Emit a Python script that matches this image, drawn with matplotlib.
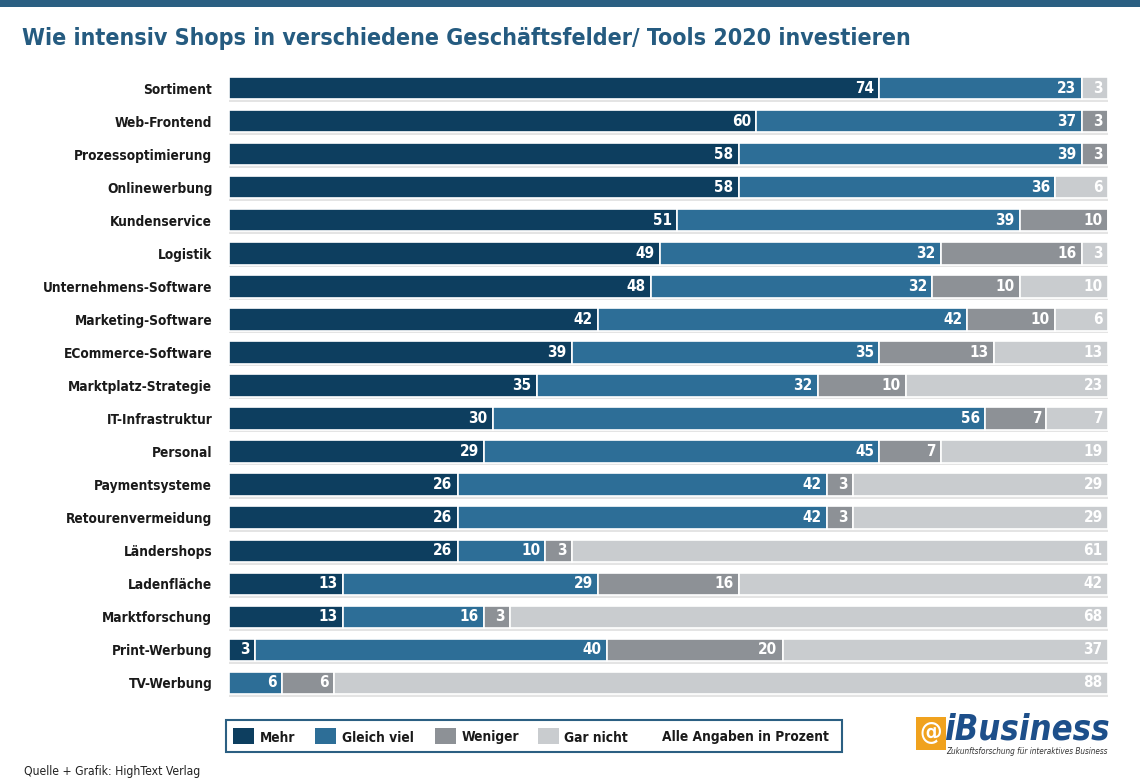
import matplotlib.pyplot as plt
from matplotlib.patches import Rectangle
import numpy as np

plt.rcParams['font.family'] = ['DejaVu Sans']
plt.rcParams['font.stretch'] = 'condensed'

# Data (in percent)
categories = ['Sortiment', 'Web-Frontend', 'Prozessoptimierung', 'Onlinewerbung',
              'Kundenservice', 'Logistik', 'Unternehmens-Software', 'Marketing-Software',
              'ECommerce-Software', 'Marktplatz-Strategie', 'IT-Infrastruktur', 'Personal',
              'Paymentsysteme', 'Retourenvermeidung', 'Ländershops', 'Ladenfläche',
              'Marktforschung', 'Print-Werbung', 'TV-Werbung']
mehr = [74, 60, 58, 58, 51, 49, 48, 42, 39, 35, 30, 29, 26, 26, 26, 13, 13, 3, 0]
gleich = [23, 37, 39, 36, 39, 32, 32, 42, 35, 32, 56, 45, 42, 42, 10, 29, 16, 40, 6]
weniger = [0, 3, 3, 0, 10, 16, 10, 10, 13, 10, 7, 7, 3, 3, 3, 16, 3, 20, 6]
gar_nicht = [3, 0, 0, 6, 0, 3, 10, 6, 13, 23, 7, 19, 29, 29, 61, 42, 68, 37, 88]

series_names = ['Mehr', 'Gleich viel', 'Weniger', 'Gar nicht']
colors = ['#0d3e5f', '#2d6e97', '#8d9196', '#c9cccf']
title_color = '#255b80'

W, H = 1140, 781
fig = plt.figure(figsize=(W / 100, H / 100), dpi=100)
fig.patch.set_facecolor('white')
renderer = fig.canvas.get_renderer()


def fx(px):
    return px / W


def fy(py):
    return 1 - py / H


def fit(t, width_px, max_size):
    # shrink a text so that it takes about width_px pixels
    w = t.get_window_extent(renderer).width
    size = min(max_size, t.get_fontsize() * width_px / w)
    t.set_fontsize(size)
    return size


# top band
fig.add_artist(Rectangle((0, fy(7)), 1, 7 / H, transform=fig.transFigure,
                         color='#2b5f82', lw=0))

title = fig.text(fx(22), fy(38), 'Wie intensiv Shops in verschiedene Geschäftsfelder/ Tools 2020 investieren',
                 fontsize=19, fontweight='bold', color=title_color, va='center', ha='left')
fit(title, 890, 20)

ax = fig.add_axes([fx(229), fy(699.5), fx(1108 - 229), (699.5 - 71.5) / H])
y = np.arange(len(categories))
data = [mehr, gleich, weniger, gar_nicht]

# soft shadow under each bar row
ax.barh(y + 0.06, 100.4, height=0.72, color='#e4e4e4', edgecolor='none', zorder=0)

left = np.zeros(len(categories))
for vals, col in zip(data, colors):
    vals = np.array(vals, dtype=float)
    ax.barh(y, vals, left=left, height=0.68, color=col, edgecolor='white',
            linewidth=1.2, zorder=2)
    for yi, l, v in zip(y, left, vals):
        if v > 0:
            ax.text(l + v - 0.6, yi, f'{int(v)}', ha='right', va='center',
                    color='white', fontsize=11, fontweight='bold', zorder=3)
    left += vals

ax.set_xlim(0, 100)
ax.set_ylim(len(categories) - 0.5, -0.5)

# size of the category labels from the longest one
probe = fig.text(0, 0, 'Unternehmens-Software', fontsize=11.5, fontweight='bold')
lab_size = fit(probe, 170, 11.5)
probe.remove()

ax.set_yticks(y)
ax.set_yticklabels(categories, fontsize=lab_size, fontweight='bold', color='#1a1a1a')
ax.tick_params(axis='y', length=0, pad=12)
ax.set_xticks([])
for s in ax.spines.values():
    s.set_visible(False)

# legend box drawn by hand
fig.add_artist(Rectangle((fx(226), fy(752)), fx(842 - 226), (752 - 720) / H,
                         transform=fig.transFigure, facecolor='white',
                         edgecolor='#2b5f82', lw=1.5))
patch_x = [233, 315, 435, 538]
text_x = [260, 342, 462, 564]
leg_texts = []
for name, col, px, tx in zip(series_names, colors, patch_x, text_x):
    fig.add_artist(Rectangle((fx(px), fy(744)), fx(21), 16 / H,
                             transform=fig.transFigure, color=col, lw=0))
    leg_texts.append(fig.text(fx(tx), fy(741.5), name, fontsize=11, fontweight='bold',
                              color='#1a1a1a', ha='left', va='baseline'))
note = fig.text(fx(662), fy(741.5), 'Alle Angaben in Prozent', fontsize=11,
                fontweight='bold', color='#1a1a1a', ha='left', va='baseline')
leg_size = fit(note, 168, 12)
for t in leg_texts:
    t.set_fontsize(leg_size)

# logo
fig.add_artist(Rectangle((fx(916), fy(750)), fx(30), 33 / H, transform=fig.transFigure,
                         color='#f0a21e', lw=0))
fig.text(fx(931), fy(733.5), '@', fontsize=18, fontweight='bold', color='white',
         ha='center', va='center')
logo = fig.text(fx(944), fy(739), 'iBusiness', fontsize=25, fontweight='bold',
                style='italic', color='#1d4f8a', ha='left', va='baseline')
fit(logo, 166, 28)
sub = fig.text(fx(946), fy(746.5), 'Zukunftsforschung für interaktives Business', fontsize=6.5,
               style='italic', color='#333333', ha='left', va='top')
fit(sub, 162, 7)

foot = fig.text(fx(24), fy(772), 'Quelle + Grafik: HighText Verlag', fontsize=10,
                color='#222222', ha='left', va='center')
fit(foot, 177, 11)

fig.savefig('out.png', dpi=100)
